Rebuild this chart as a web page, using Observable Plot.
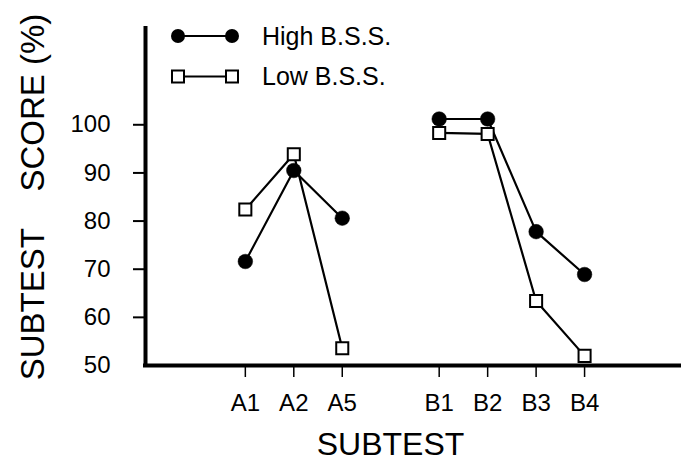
<!DOCTYPE html>
<html>
<head>
<meta charset="utf-8">
<script src="https://cdn.jsdelivr.net/npm/d3@7"></script>
<script src="https://cdn.jsdelivr.net/npm/@observablehq/plot@0.6"></script>
<style>
  html, body { margin: 0; padding: 0; background: white; }
</style>
</head>
<body>
<div id="chart"></div>
<script>
const subtests = ["A1", "A2", "A5", "B1", "B2", "B3", "B4"];
const xPositions = [0, 1, 2, 4, 5, 6, 7];
const groups = ["A", "A", "A", "B", "B", "B", "B"];
const highBSS = [71.6, 90.5, 80.6, 101.2, 101.2, 77.8, 68.9];
const lowBSS = [82.4, 93.9, 53.6, 98.3, 98.1, 63.4, 52.0];
const yTickValues = [50, 60, 70, 80, 90, 100];
const seriesNames = ["High B.S.S.", "Low B.S.S."];
const xTitle = "SUBTEST";
const yTitle = "SUBTEST\u00A0\u00A0\u00A0\u00A0SCORE (%)";

const rows = subtests.map((s, i) => ({
  subtest: s, pos: xPositions[i], group: groups[i], high: highBSS[i], low: lowBSS[i]
}));

const FONT = "Liberation Sans, Arial, sans-serif";
const xMin = -2.06;

const chart = Plot.plot({
  width: 681,
  height: 461,
  marginLeft: 145,
  marginRight: 0,
  marginTop: 28,
  marginBottom: 96,
  style: { fontFamily: FONT, background: "white", color: "black" },
  x: { type: "linear", domain: [xMin, 9], label: null },
  y: { domain: [50, 120], label: null },
  marks: [
    Plot.axisY(yTickValues, { tickSize: 0, tickPadding: 35, fontSize: 24, label: null, tickFormat: d => String(d) }),
    Plot.axisY(yTickValues.slice(1), { tickSize: 12, strokeWidth: 2, label: null, tickFormat: () => "" }),
    Plot.axisX(xPositions, {
      tickSize: 12, tickPadding: 16, fontSize: 24, strokeWidth: 1.5, label: null,
      tickFormat: d => subtests[xPositions.indexOf(d)]
    }),
    Plot.ruleX([xMin], { strokeWidth: 4, strokeLinecap: "square" }),
    Plot.ruleY([50], { strokeWidth: 4, strokeLinecap: "square" }),
    Plot.line(rows, { x: "pos", y: "low", z: "group", stroke: "black", strokeWidth: 2.2 }),
    Plot.line(rows, { x: "pos", y: "high", z: "group", stroke: "black", strokeWidth: 2.2 }),
    Plot.dot(rows, { x: "pos", y: "low", symbol: "square", r: 6.8, fill: "white", stroke: "black", strokeWidth: 2 }),
    Plot.dot(rows, { x: "pos", y: "high", symbol: "circle", r: 7.3, fill: "black", stroke: "black", strokeWidth: 0.5 }),
    Plot.text([xTitle], { text: d => d, frameAnchor: "bottom", textAnchor: "middle", lineAnchor: "middle", dx: -23, dy: 79, fontSize: 32 }),
    Plot.text([yTitle], { text: d => d, frameAnchor: "left", textAnchor: "middle", lineAnchor: "middle", rotate: -90, dx: -112, fontSize: 33 })
  ]
});

// Legend inside the plot, top-left
const svg = d3.select(chart);
const legend = svg.append("g");
const legendRows = [
  { name: seriesNames[0], kind: "circle", y: 36 },
  { name: seriesNames[1], kind: "square", y: 76.5 }
];
legendRows.forEach(row => {
  const g = legend.append("g");
  g.append("line").attr("x1", 178).attr("x2", 232).attr("y1", row.y).attr("y2", row.y)
    .attr("stroke", "black").attr("stroke-width", 2);
  [178, 232].forEach(cx => {
    if (row.kind === "circle") {
      g.append("circle").attr("cx", cx).attr("cy", row.y).attr("r", 7).attr("fill", "black");
    } else {
      g.append("rect").attr("x", cx - 6).attr("y", row.y - 6).attr("width", 12).attr("height", 12)
        .attr("fill", "white").attr("stroke", "black").attr("stroke-width", 2);
    }
  });
  g.append("text").attr("x", 262).attr("y", row.y).attr("dy", "0.35em")
    .style("font-family", FONT).style("font-size", "25px").style("text-anchor", "start")
    .style("fill", "black")
    .text(row.name);
});

document.getElementById("chart").appendChild(chart);
</script>
</body>
</html>
